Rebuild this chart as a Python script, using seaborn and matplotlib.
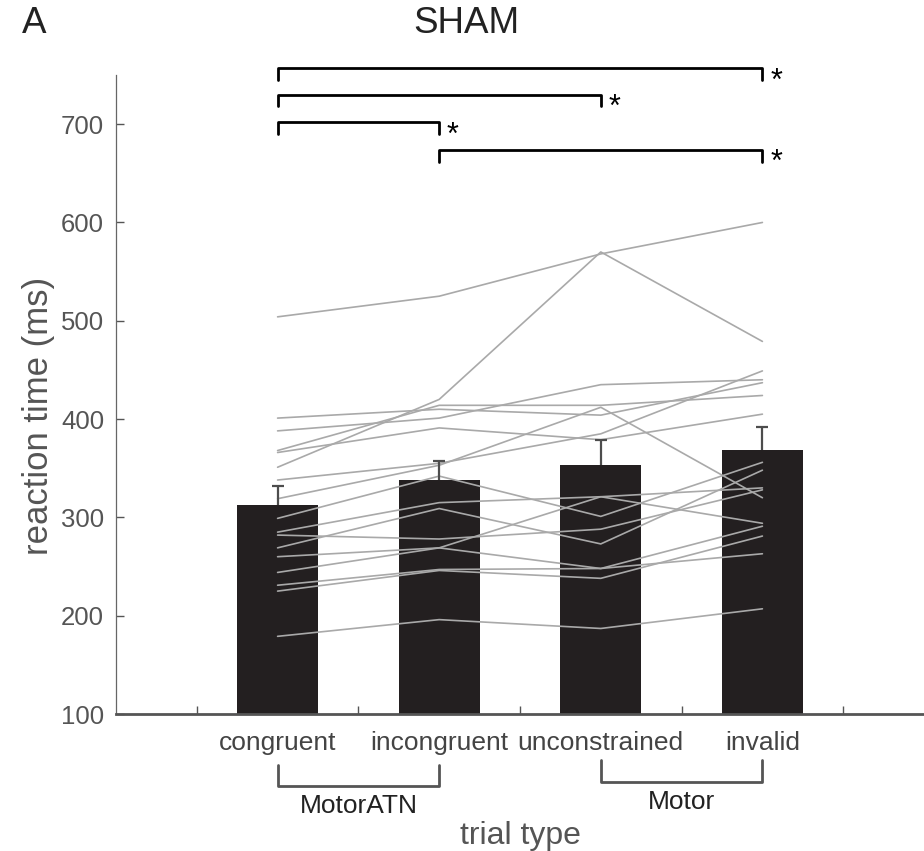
import matplotlib
matplotlib.use("Agg")
import matplotlib.pyplot as plt
import numpy as np
import pandas as pd
import seaborn as sns

# Trial types and group summary (mean reaction time, SEM)
conditions = ["congruent", "incongruent", "unconstrained", "invalid"]
mean_rt = [313, 338, 353, 369]
sem_rt = [18.5, 19.5, 26, 22.5]

# Individual subjects' reaction times (ms) per trial type, same subject order
rt_congruent = [504, 351, 401, 388, 368, 366, 338, 319, 299, 285, 282, 269, 260, 244, 231, 225, 179]
rt_incongruent = [525, 420, 410, 401, 414, 391, 355, 353, 342, 315, 278, 309, 269, 269, 247, 246, 196]
rt_unconstrained = [568, 570, 404, 435, 414, 379, 385, 412, 301, 321, 288, 273, 321, 248, 248, 238, 187]
rt_invalid = [600, 479, 437, 440, 424, 405, 449, 320, 356, 330, 328, 348, 294, 291, 263, 281, 207]

# Significant pairwise comparisons and bracket heights (ms)
sig_pairs = [(0, 3), (0, 2), (0, 1), (1, 3)]
sig_heights = [757, 730, 702, 674]

# Grouping of trial types shown under the axis
group_names = ["MotorATN", "Motor"]
group_spans = [(0, 1), (2, 3)]

sns.set_style("ticks")
plt.rcParams["font.family"] = ["Liberation Sans", "DejaVu Sans"]

fig = plt.figure(figsize=(9.24, 8.51), dpi=100)
ax = fig.add_axes([116 / 924, 1 - 714 / 851, (924 - 116) / 924, (714 - 75) / 851])

bar_df = pd.DataFrame({"condition": conditions, "rt": mean_rt})
sns.barplot(data=bar_df, x="condition", y="rt", order=conditions, color="#231f20",
            saturation=1, width=0.5, errorbar=None, linewidth=0, ax=ax, zorder=1)

# upward-only error bars
xpos = np.arange(len(conditions))
tops = np.array(mean_rt) + np.array(sem_rt)
ax.vlines(xpos, mean_rt, tops, color="#4d4d4d", lw=1.6, zorder=3)
ax.hlines(tops, xpos - 0.037, xpos + 0.037, color="#4d4d4d", lw=1.6, zorder=3)

# one grey line per subject across trial types
subj_series = [rt_congruent, rt_incongruent, rt_unconstrained, rt_invalid]
n_subj = len(rt_congruent)
long_df = pd.DataFrame({
    "subject": np.tile(np.arange(n_subj), len(conditions)),
    "pos": np.repeat(xpos, n_subj),
    "rt": np.concatenate(subj_series),
})
sns.lineplot(data=long_df, x="pos", y="rt", units="subject", estimator=None,
             color="#a9a9a9", lw=1.2, ax=ax, zorder=2, legend=False)

ax.set_xlim(-1, 4)
ax.set_ylim(100, 750)

# significance brackets
drop = 12
for (a, b), h in zip(sig_pairs, sig_heights):
    ax.plot([a, a, b, b], [h - drop, h, h, h - drop], color="black",
            lw=2, clip_on=False, zorder=4)
    ax.text(b + 0.085, h - 22, "*", ha="center", va="baseline", fontsize=22,
            color="black", clip_on=False)

# grouping brackets below the axis
trans = ax.get_xaxis_transform()
group_levels = [(-0.080, -0.113, -0.144), (-0.072, -0.106, -0.137)]
for name, (a, b), (ytip, ybot, ytxt) in zip(group_names, group_spans, group_levels):
    ax.plot([a, a, b, b], [ytip, ybot, ybot, ytip], color="#555555", lw=2,
            transform=trans, clip_on=False)
    ax.text((a + b) / 2, ytxt, name, transform=trans, ha="center", va="center",
            fontsize=19, color="#222222")

ax.set_xticks(xpos, conditions)
ax.set_xticks([-0.5, 0.5, 1.5, 2.5, 3.5], minor=True)
ax.tick_params(axis="x", which="major", length=0, pad=12, labelsize=19, labelcolor="#444444")
ax.tick_params(axis="x", which="minor", direction="in", length=5.8, width=1, color="#555555")
ax.set_yticks(range(100, 701, 100))
ax.tick_params(axis="y", direction="in", length=5.5, width=1, color="#555555",
               pad=8.5, labelsize=18.5, labelcolor="#555555")

for s in ["top", "right"]:
    ax.spines[s].set_visible(False)
ax.spines["left"].set_color("#666666")
ax.spines["left"].set_linewidth(0.9)
ax.spines["bottom"].set_color("#555555")
ax.spines["bottom"].set_linewidth(2)

ax.set_xlabel("trial type", fontsize=23, color="#555555")
ax.xaxis.set_label_coords(0.5, -0.191)
ax.xaxis.label.set_va("center")
ax.set_ylabel("reaction time (ms)", fontsize=25, color="#555555")
ax.yaxis.set_label_coords(-0.0965, 0.466)
ax.yaxis.label.set_va("center")

fig.text(0.505, 0.972, "SHAM", ha="center", va="center", fontsize=26.5, color="#222222")
fig.text(22 / 924, 0.972, "A", ha="left", va="center", fontsize=26.5, color="#222222")

fig.savefig("out.png", dpi=100)
